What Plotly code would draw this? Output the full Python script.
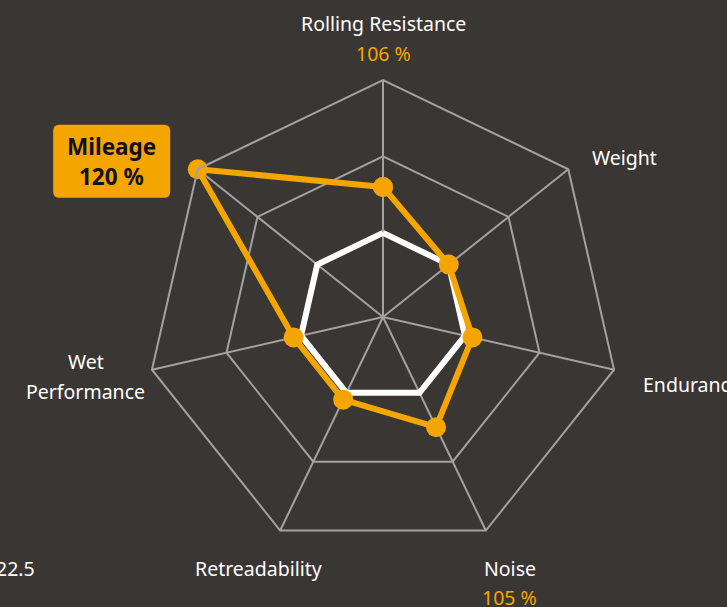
import math
import plotly.graph_objects as go

# ---- data ----
categories = ["Rolling Resistance", "Weight", "Endurance", "Noise",
              "Retreadability", "Wet Performance", "Mileage"]
tire_values = [106, 100, 101, 105, 101, 101, 120]       # % vs. reference
reference_values = [100, 100, 100, 100, 100, 100, 100]  # baseline 100 %
highlight_labels = {"Rolling Resistance": "106 %", "Noise": "105 %"}
badge_label = ("Mileage", "120 %")
radial_ticks = [100, 110, 120]
radial_range = [89, 120]
side_note = "22.5"

# ---- style ----
BG = "#3a3633"
ORANGE = "#f5a500"
GRID = "#a2a2a2"
W, H = 727, 607
FONT = "Noto Sans"
FS = 19.5

# polar placement in pixels
cx, cy, R = 383, 317, 237


def px(x):
    return x / W


def py(y):
    return 1 - y / H


fig = go.Figure()

theta_closed = categories + [categories[0]]

fig.add_trace(go.Scatterpolar(
    r=reference_values + [reference_values[0]], theta=theta_closed,
    mode="lines", line=dict(color="white", width=6),
    hoverinfo="skip", showlegend=False))

fig.add_trace(go.Scatterpolar(
    r=tire_values + [tire_values[0]], theta=theta_closed,
    mode="lines+markers", line=dict(color=ORANGE, width=6),
    marker=dict(color=ORANGE, size=20),
    showlegend=False))

fig.update_layout(
    width=W, height=H,
    margin=dict(l=0, r=0, t=0, b=0),
    paper_bgcolor=BG, plot_bgcolor=BG,
    polar=dict(
        domain=dict(x=[px(cx - R), px(cx + R)], y=[py(cy + R), py(cy - R)]),
        bgcolor="rgba(0,0,0,0)",
        gridshape="linear",
        angularaxis=dict(rotation=90, direction="clockwise",
                         showticklabels=False, ticks="",
                         showline=True, linecolor=GRID, linewidth=2,
                         showgrid=True, gridcolor=GRID, gridwidth=2),
        radialaxis=dict(range=radial_range, tickvals=radial_ticks,
                        showticklabels=False, ticks="", showline=False,
                        showgrid=True, gridcolor=GRID, gridwidth=2),
    ),
    font=dict(family=FONT, color="white", size=FS),
)

# vertex positions of each axis (pixels)
n = len(categories)
verts = {}
for i, c in enumerate(categories):
    a = math.radians(90 - i * 360 / n)
    verts[c] = (cx + R * math.cos(a), cy - R * math.sin(a))

# label offsets from vertex: (dx, dy, xanchor)
label_pos = {
    "Rolling Resistance": (0, -56, "center"),
    "Weight": (22, -12, "left"),
    "Endurance": (27, 15, "left"),
    "Noise": (24, 38, "center"),
    "Retreadability": (-22, 38, "center"),
}
annotations = []
for c, (dx, dy, xa) in label_pos.items():
    vx, vy = verts[c]
    annotations.append(dict(x=px(vx + dx), y=py(vy + dy), xref="paper", yref="paper",
                            text=c, showarrow=False, xanchor=xa, yanchor="middle",
                            font=dict(size=FS, color="white", family=FONT)))
    if c in highlight_labels:
        annotations.append(dict(x=px(vx + dx), y=py(vy + dy + 29), xref="paper", yref="paper",
                                text=highlight_labels[c], showarrow=False, xanchor=xa,
                                yanchor="middle",
                                font=dict(size=FS, color=ORANGE, family=FONT)))

# Wet Performance (two lines)
vx, vy = verts["Wet Performance"]
for k, word in enumerate(["Wet", "Performance"]):
    annotations.append(dict(x=px(vx - 66), y=py(vy - 8 + 30 * k), xref="paper", yref="paper",
                            text=word, showarrow=False, xanchor="center", yanchor="middle",
                            font=dict(size=FS, color="white", family=FONT)))

# Mileage badge
vx, vy = verts["Mileage"]
bx, by = vx - 86, vy - 8
bw, bh, rr = 117, 73, 6
x0, x1, y0, y1 = bx - bw / 2, bx + bw / 2, by - bh / 2, by + bh / 2
path = (f"M {px(x0 + rr)},{py(y0)} L {px(x1 - rr)},{py(y0)} "
        f"Q {px(x1)},{py(y0)} {px(x1)},{py(y0 + rr)} L {px(x1)},{py(y1 - rr)} "
        f"Q {px(x1)},{py(y1)} {px(x1 - rr)},{py(y1)} L {px(x0 + rr)},{py(y1)} "
        f"Q {px(x0)},{py(y1)} {px(x0)},{py(y1 - rr)} L {px(x0)},{py(y0 + rr)} "
        f"Q {px(x0)},{py(y0)} {px(x0 + rr)},{py(y0)} Z")
fig.add_shape(type="path", path=path, xref="paper", yref="paper",
              fillcolor=ORANGE, line=dict(width=0), layer="above")
for k, t in enumerate(badge_label):
    annotations.append(dict(x=px(bx), y=py(by - 15 + 30 * k), xref="paper", yref="paper",
                            text=f"<b>{t}</b>", showarrow=False, xanchor="center",
                            yanchor="middle",
                            font=dict(size=22.5, color="#111111", family=FONT)))

# side note at the left edge
annotations.append(dict(x=px(37), y=py(568), xref="paper", yref="paper",
                        text=side_note, showarrow=False, xanchor="right", yanchor="middle",
                        font=dict(size=FS, color="white", family=FONT)))

fig.update_layout(annotations=annotations)
fig.write_html("out.html",
               config={"displayModeBar": False},
               post_script="document.body.style.margin='0';"
                           "document.body.style.overflow='hidden';")
